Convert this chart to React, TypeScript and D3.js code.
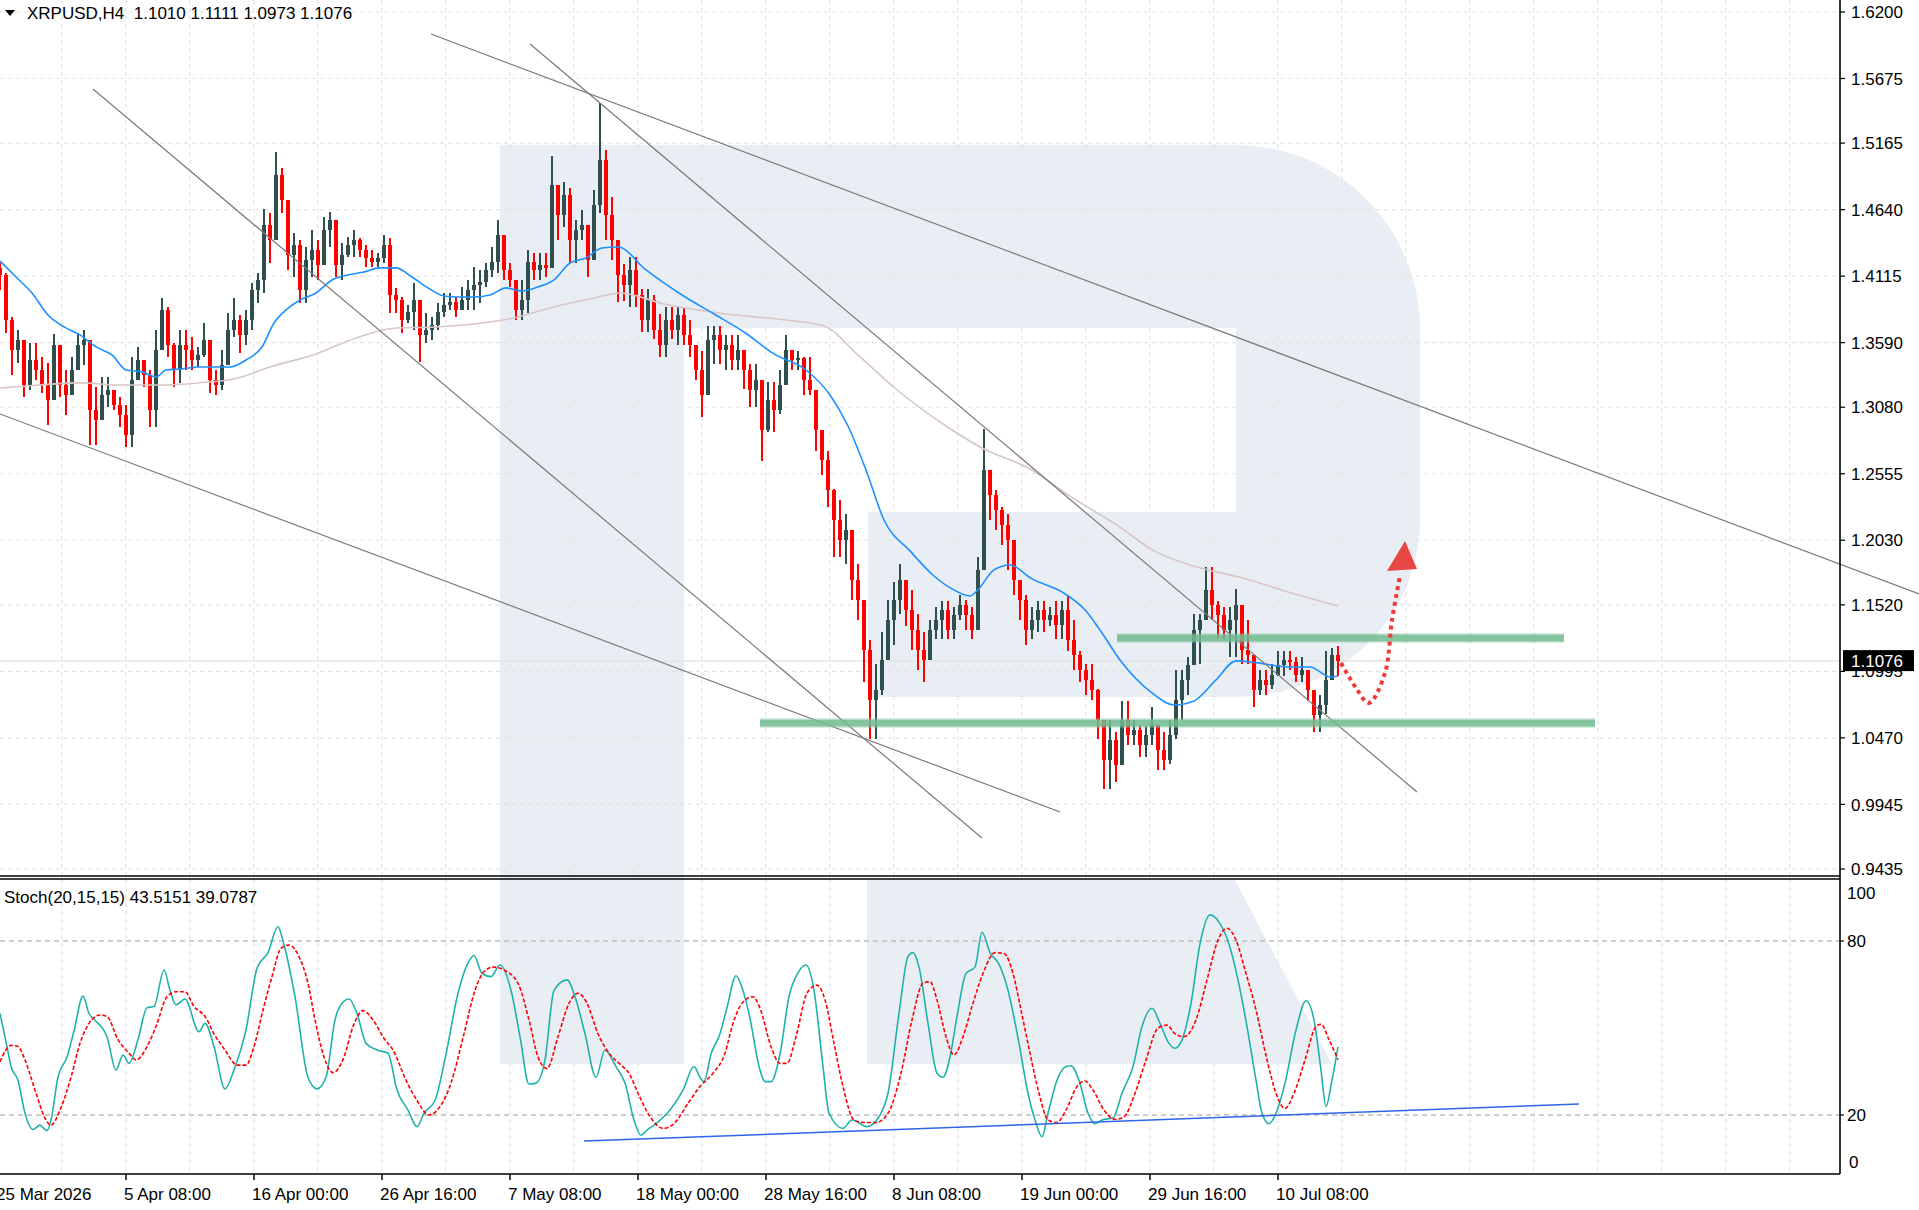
import React from 'react';
import * as d3 from 'd3';

// chart frame (px)
const W = 1919;
const H = 1210;
const AXIS_X = 1840;
const MAIN_BOTTOM = 876;
const SUB_TOP = 879;
const SUB_BOTTOM = 1174;
const FONT = "'Liberation Sans', Arial, sans-serif";

const symbolHeader = 'XRPUSD,H4  1.1010 1.1111 1.0973 1.1076';
const stochHeader = 'Stoch(20,15,15) 43.5151 39.0787';
const lastPrice = 1.1076;

const priceTicks = [1.62, 1.5675, 1.5165, 1.464, 1.4115, 1.359, 1.308, 1.2555, 1.203, 1.152, 1.0995, 1.047, 0.9945, 0.9435];
const stochLevels = [80, 20];
const timeTickBars = [-1, 63, 127, 191, 255, 319, 383, 447, 511, 575, 639];
const timeTickLabels = ['25 Mar 2026', '5 Apr 08:00', '16 Apr 00:00', '26 Apr 16:00', '7 May 08:00', '18 May 00:00',
  '28 May 16:00', '8 Jun 08:00', '19 Jun 00:00', '29 Jun 16:00', '10 Jul 08:00'];

// each candle groups 3 H4 bars
const BARS_PER_CANDLE = 3;
const firstOpen = 1.418;
const closes = [
  1.4124, 1.3769, 1.3532, 1.3611, 1.3256, 1.3453, 1.3374, 1.3256, 1.3137, 1.3572,
  1.3256, 1.3177, 1.3374, 1.3572, 1.3611, 1.3059, 1.2980, 1.3177, 1.3216, 1.3098,
  1.3019, 1.2861, 1.3295, 1.3453, 1.3335, 1.3059, 1.3532, 1.3848, 1.3572, 1.3374,
  1.3572, 1.3532, 1.3453, 1.3493, 1.3611, 1.3295, 1.3256, 1.3414, 1.3690, 1.3769,
  1.3651, 1.3769, 1.4006, 1.4085, 1.4519, 1.4400, 1.4913, 1.4716, 1.4282, 1.4361,
  1.4006, 1.4242, 1.4321, 1.4203, 1.4479, 1.4558, 1.4203, 1.4282, 1.4361, 1.4400,
  1.4321, 1.4258, 1.4227, 1.4258, 1.4361, 1.3966, 1.3927, 1.3769, 1.3832, 1.3927,
  1.3651, 1.3690, 1.3729, 1.3832, 1.3887, 1.3911, 1.3848, 1.3927, 1.4006, 1.4045,
  1.4069, 1.4164, 1.4227, 1.4440, 1.4164, 1.4085, 1.3848, 1.3927, 1.4227, 1.4164,
  1.4203, 1.4180, 1.4834, 1.4598, 1.4755, 1.4400, 1.4479, 1.4519, 1.4242, 1.4677,
  1.5032, 1.4598, 1.4400, 1.4124, 1.4045, 1.4164, 1.3966, 1.3769, 1.3927, 1.3690,
  1.3572, 1.3769, 1.3690, 1.3808, 1.3651, 1.3572, 1.3374, 1.3177, 1.3611, 1.3651,
  1.3532, 1.3572, 1.3453, 1.3532, 1.3374, 1.3216, 1.3295, 1.2901, 1.3137, 1.3059,
  1.3256, 1.3532, 1.3453, 1.3469, 1.3295, 1.3216, 1.2901, 1.2664, 1.2427, 1.2190,
  1.2033, 1.2111, 1.1717, 1.1559, 1.1164, 1.0770, 1.0849, 1.1085, 1.1401, 1.1559,
  1.1717, 1.1480, 1.1322, 1.1164, 1.1085, 1.1322, 1.1401, 1.1480, 1.1322, 1.1441,
  1.1520, 1.1441, 1.1322, 1.1796, 1.2585, 1.2388, 1.2269, 1.2151, 1.2033, 1.1717,
  1.1559, 1.1322, 1.1401, 1.1480, 1.1401, 1.1441, 1.1362, 1.1480, 1.1243, 1.1125,
  1.1007, 1.0928, 1.0849, 1.0612, 1.0296, 1.0454, 1.0257, 1.0612, 1.0493, 1.0533,
  1.0415, 1.0493, 1.0572, 1.0375, 1.0296, 1.0493, 1.0770, 1.0928, 1.1046, 1.1322,
  1.1401, 1.1638, 1.1520, 1.1441, 1.1322, 1.1401, 1.1520, 1.1164, 1.1125, 1.0849,
  1.0928, 1.0888, 1.0967, 1.1046, 1.1085, 1.1070, 1.0967, 1.1007, 1.0849, 1.0651,
  1.0730, 1.0928, 1.1125, 1.1076,
];
const highs = [
  1.4220, 1.4140, 1.3793, 1.3690, 1.3588, 1.3588, 1.3588, 1.3477, 1.3430, 1.3659,
  1.3532, 1.3374, 1.3477, 1.3666, 1.3690, 1.3556, 1.3240, 1.3319, 1.3319, 1.3216,
  1.3161, 1.3098, 1.3477, 1.3556, 1.3453, 1.3374, 1.3690, 1.3942, 1.3871, 1.3588,
  1.3690, 1.3690, 1.3635, 1.3556, 1.3745, 1.3611, 1.3374, 1.3532, 1.3824, 1.3942,
  1.3808, 1.3848, 1.4061, 1.4140, 1.4645, 1.4614, 1.5095, 1.4969, 1.4535, 1.4456,
  1.4400, 1.4345, 1.4479, 1.4400, 1.4582, 1.4622, 1.4479, 1.4377, 1.4424, 1.4479,
  1.4416, 1.4361, 1.4321, 1.4298, 1.4440, 1.4416, 1.4022, 1.3950, 1.3887, 1.4061,
  1.3848, 1.3824, 1.3793, 1.3903, 1.3982, 1.3982, 1.3950, 1.4030, 1.4085, 1.4187,
  1.4164, 1.4219, 1.4345, 1.4558, 1.4298, 1.4219, 1.4006, 1.4085, 1.4321, 1.4298,
  1.4298, 1.4298, 1.5063, 1.4795, 1.4858, 1.4811, 1.4558, 1.4637, 1.4503, 1.4795,
  1.5482, 1.5111, 1.4740, 1.4400, 1.4211, 1.4266, 1.4266, 1.4014, 1.4014, 1.3966,
  1.3816, 1.3871, 1.3871, 1.3871, 1.3871, 1.3769, 1.3525, 1.3525, 1.3721, 1.3721,
  1.3721, 1.3651, 1.3651, 1.3651, 1.3525, 1.3422, 1.3422, 1.3280, 1.3280, 1.3280,
  1.3374, 1.3651, 1.3525, 1.3525, 1.3477, 1.3477, 1.3082, 1.2901, 1.2735, 1.2435,
  1.2348, 1.2238, 1.2033, 1.1843, 1.1559, 1.1243, 1.1054, 1.1306, 1.1559, 1.1701,
  1.1843, 1.1701, 1.1638, 1.1449, 1.1306, 1.1401, 1.1504, 1.1551, 1.1551, 1.1504,
  1.1598, 1.1559, 1.1504, 1.1898, 1.2909, 1.2585, 1.2427, 1.2293, 1.2238, 1.1898,
  1.1717, 1.1598, 1.1504, 1.1551, 1.1551, 1.1504, 1.1551, 1.1551, 1.1598, 1.1401,
  1.1157, 1.1054, 1.1054, 1.0857, 1.0612, 1.0612, 1.0517, 1.0762, 1.0762, 1.0612,
  1.0564, 1.0564, 1.0714, 1.0517, 1.0517, 1.0612, 1.1007, 1.1007, 1.1109, 1.1449,
  1.1449, 1.1820, 1.1820, 1.1551, 1.1504, 1.1504, 1.1646, 1.1401, 1.1401, 1.1109,
  1.1007, 1.1007, 1.1054, 1.1157, 1.1157, 1.1157, 1.1109, 1.1109, 1.1007, 1.0809,
  1.0809, 1.1157, 1.1180, 1.1196,
];
const lows = [
  1.4006, 1.3666, 1.3335, 1.3430, 1.3161, 1.3216, 1.3295, 1.3193, 1.2940, 1.3374,
  1.3161, 1.3019, 1.3216, 1.3430, 1.3414, 1.2782, 1.2782, 1.2980, 1.3082, 1.3059,
  1.2924, 1.2766, 1.2766, 1.3295, 1.3240, 1.2924, 1.2924, 1.3690, 1.3477, 1.3240,
  1.3272, 1.3374, 1.3374, 1.3398, 1.3477, 1.3193, 1.3177, 1.3216, 1.3414, 1.3635,
  1.3509, 1.3572, 1.3690, 1.3903, 1.3982, 1.4219, 1.4400, 1.4614, 1.4164, 1.4109,
  1.3903, 1.3903, 1.4109, 1.4085, 1.4282, 1.4345, 1.4109, 1.4085, 1.4266, 1.4266,
  1.4266, 1.4187, 1.4187, 1.4187, 1.4219, 1.3824, 1.3824, 1.3666, 1.3745, 1.3690,
  1.3438, 1.3588, 1.3611, 1.3690, 1.3793, 1.3848, 1.3793, 1.3848, 1.3848, 1.3848,
  1.3903, 1.4030, 1.4109, 1.4140, 1.4085, 1.4030, 1.3769, 1.3769, 1.3824, 1.4085,
  1.4085, 1.4109, 1.4321, 1.4400, 1.4503, 1.4219, 1.4219, 1.4400, 1.4109, 1.4242,
  1.4614, 1.4400, 1.4242, 1.3911, 1.3919, 1.3871, 1.3871, 1.3674, 1.3674, 1.3619,
  1.3477, 1.3477, 1.3619, 1.3572, 1.3572, 1.3477, 1.3295, 1.3003, 1.3374, 1.3422,
  1.3422, 1.3374, 1.3374, 1.3374, 1.3224, 1.3082, 1.3082, 1.2656, 1.2885, 1.2885,
  1.3027, 1.3280, 1.3374, 1.3374, 1.3177, 1.3177, 1.2735, 1.2546, 1.2293, 1.1898,
  1.1898, 1.1843, 1.1559, 1.1401, 1.0911, 1.0462, 1.0462, 1.0809, 1.1085, 1.1204,
  1.1449, 1.1354, 1.1164, 1.1007, 1.0911, 1.1085, 1.1251, 1.1251, 1.1251, 1.1251,
  1.1401, 1.1322, 1.1251, 1.1449, 1.1898, 1.2190, 1.2111, 1.1993, 1.1796, 1.1598,
  1.1401, 1.1204, 1.1251, 1.1306, 1.1306, 1.1354, 1.1251, 1.1251, 1.1157, 1.1007,
  1.0911, 1.0809, 1.0770, 1.0462, 1.0067, 1.0067, 1.0122, 1.0415, 1.0415, 1.0415,
  1.0320, 1.0320, 1.0415, 1.0217, 1.0217, 1.0264, 1.0462, 1.0612, 1.0809, 1.1054,
  1.1054, 1.1401, 1.1401, 1.1251, 1.1251, 1.1109, 1.1109, 1.1054, 1.1054, 1.0715,
  1.0809, 1.0809, 1.0857, 1.0959, 1.0959, 1.1007, 1.0911, 1.0911, 1.0762, 1.0517,
  1.0517, 1.0659, 1.0959, 1.0959,
];

// moving averages: [bar, price]
const maFast: [number, number][] = [
  [0, 1.4235], [8, 1.4108], [16, 1.3982], [24, 1.3808], [32, 1.3714], [40, 1.3651], [48, 1.3556], [56, 1.3493],
  [63, 1.3374], [71, 1.3359], [78, 1.3319], [83, 1.3374], [91, 1.3382], [99, 1.3398], [107, 1.3398], [115, 1.3398],
  [123, 1.3453], [131, 1.3556], [137, 1.3745], [143, 1.3848], [150, 1.3927], [158, 1.3982], [166, 1.4085],
  [174, 1.4124], [182, 1.4148], [190, 1.4180], [198, 1.4180], [206, 1.4108], [214, 1.4022], [222, 1.3958],
  [229, 1.3950], [237, 1.3950], [245, 1.3966], [253, 1.4022], [261, 1.3998], [269, 1.4030], [277, 1.4085],
  [285, 1.4219], [293, 1.4258], [301, 1.4337], [309, 1.4345], [323, 1.4164], [341, 1.3966], [357, 1.3816],
  [372, 1.3674], [387, 1.3501], [403, 1.3374], [415, 1.3177], [424, 1.2932], [433, 1.2585], [442, 1.2190],
  [455, 1.1946], [467, 1.1748], [476, 1.1646], [485, 1.1590], [488, 1.1622], [497, 1.1796], [505, 1.1835],
  [516, 1.1725], [531, 1.1622], [543, 1.1472], [550, 1.1322], [560, 1.1085], [576, 1.0825], [587, 1.0730],
  [597, 1.0762], [608, 1.0928], [618, 1.1078], [629, 1.1062], [644, 1.1030], [655, 1.1030], [665, 1.0951],
  [669, 1.0959],
];
const maSlow: [number, number][] = [
  [0, 1.3232], [20, 1.3256], [40, 1.3272], [60, 1.3256], [79, 1.3256], [99, 1.3272], [119, 1.3311],
  [135, 1.3398], [158, 1.3501], [178, 1.3627], [198, 1.3706], [218, 1.3714], [237, 1.3737], [257, 1.3785],
  [277, 1.3872], [297, 1.3942], [310, 1.3982], [332, 1.3895], [363, 1.3816], [393, 1.3769], [412, 1.3721],
  [430, 1.3477], [448, 1.3224], [473, 1.2932], [491, 1.2758], [516, 1.2585], [534, 1.2388], [559, 1.2144],
  [577, 1.1946], [595, 1.1835], [623, 1.1725], [644, 1.1622], [669, 1.1512],
];

// stochastic %K and %D: [bar, value]
const stochK: [number, number][] = [
  [0, 55], [3.5, 43.6], [5.5, 36.7], [9, 32], [12.5, 20.6], [16.5, 15], [20, 16.5], [23.5, 14.6], [25.5, 18.3],
  [29, 33], [33.5, 40], [37, 49], [41.5, 61], [44.5, 55], [47, 53], [53.5, 47], [58, 35.5], [61.5, 40.7],
  [64.5, 37.8], [69, 46], [73.5, 57], [77, 57.4], [82, 70], [85, 63], [88, 58], [92.5, 60], [99.5, 48.7],
  [102.5, 51.6], [107, 43.6], [112.5, 29], [117, 35.5], [123, 49.3], [128.5, 70.6], [134, 76], [139, 85],
  [141.5, 80], [147.5, 60.8], [154, 33], [158.5, 29], [163, 33], [167.5, 52.8], [171, 58.5], [174.5, 60],
  [178.5, 55], [183, 44.7], [188.5, 42.4], [194, 41.3], [198.5, 28.6], [204, 21.7], [208.5, 16], [212, 20.6],
  [217.5, 25], [223, 41], [229, 62], [233.5, 71.7], [237, 75], [241, 68.8], [245.5, 67.7], [250, 71.7],
  [255.5, 63], [260, 47], [264.5, 30.7], [268, 31], [272.5, 39], [277, 63], [283.5, 66.6], [288, 59.7],
  [292.5, 48], [298, 33], [302.5, 42.4], [308, 36.7], [312.5, 31], [317, 18.3], [320.5, 13], [323.5, 14.8],
  [328, 17], [335, 21.7], [341.5, 28.6], [347, 36.7], [350, 33], [352, 31.5], [355.5, 41], [360, 48],
  [363.5, 57], [368, 68], [371, 64], [374.5, 55], [380, 35.5], [382.5, 31.5], [385.5, 31.5], [390, 41],
  [394.5, 60.8], [399, 69], [403, 71.7], [407, 63], [411.5, 36.7], [414.5, 20.6], [421.5, 15.4], [426, 18.3],
  [433.5, 16], [439.5, 19.4], [444, 27.5], [449.5, 55], [454, 74.6], [456.5, 76], [459.5, 71], [464, 51.6],
  [468.5, 34.4], [471.5, 33], [475, 40], [478.5, 54], [483, 68.8], [487.5, 71], [491, 83], [495, 76],
  [499.5, 72], [504, 63], [509.5, 44.7], [514, 27.5], [517.5, 18.3], [521, 12.5], [524, 20.6], [528.5, 32],
  [533, 36.7], [535.5, 37], [539.5, 32], [544, 20.6], [547.5, 17], [551, 18.3], [556.5, 19], [561, 27.5],
  [566.5, 36.7], [571, 50.5], [576, 56.8], [580, 51.6], [584.5, 44.7], [587.5, 43], [591, 45.9], [595.5, 58.5],
  [600, 79], [605, 89], [610, 86], [614.5, 79], [619, 66.6], [623.5, 50.5], [628, 32], [631, 20.6], [634.5, 17],
  [638, 20.6], [642.5, 31], [648, 49.3], [653, 59.4], [657, 52.8], [660.5, 35.5], [663, 23], [666, 32],
  [669, 43.5],
];
const stochD: [number, number][] = [
  [0, 38.4], [5.5, 44], [9, 43.6], [12.5, 39], [18, 27.5], [22.5, 18.9], [25.5, 16.5], [30, 21.7], [35.5, 33],
  [40, 44.7], [44.5, 51.6], [50, 54.5], [53.5, 54], [59, 46], [64.5, 41.3], [68, 39], [73.5, 43.6], [78, 50.5],
  [83.5, 60.8], [88, 62.5], [92.5, 62.5], [97, 57.4], [102.5, 54], [107, 48], [112.5, 42.4], [118.5, 37.2],
  [123, 37.2], [127, 43.6], [131.5, 56.2], [136, 67.7], [140.5, 77.5], [144.5, 78.6], [149.5, 74.6],
  [154, 65.4], [157.5, 52.8], [162, 40], [166.5, 34.6], [172, 40], [176.5, 50.5], [181.5, 56], [186.5, 52.8],
  [192, 46.4], [196.5, 42.4], [203, 32], [208.5, 25], [214.5, 20], [220, 22.9], [225.5, 31], [232, 48],
  [237.5, 63], [242, 69.4], [246.5, 71], [252, 70], [259, 65.4], [264.5, 52.8], [269, 40], [273.5, 36],
  [279, 47], [284.5, 58.5], [289, 62], [293.5, 58.5], [299, 48], [304.5, 41.3], [310.5, 37.2], [314.5, 34.4],
  [319, 27.5], [325, 19.4], [331.5, 15.4], [337, 17], [344, 24], [350, 29.8], [356.5, 34.4], [362.5, 41.3],
  [366.5, 51.6], [371, 58.5], [376.5, 60.8], [380, 56.8], [385.5, 43.6], [390, 37.8], [393.5, 37.8], [398, 47],
  [403.5, 62], [408.5, 64.8], [412.5, 59.7], [417, 44.7], [421.5, 29.8], [427, 18.3], [431.5, 17.4],
  [438, 17.4], [444, 20.6], [450.5, 34.4], [456, 52.8], [461.5, 65.4], [465, 66], [468.5, 59.7], [473, 47],
  [477, 40.7], [481.5, 47], [486, 57.4], [491.5, 68.8], [497.5, 76], [502, 75.7], [506.5, 68.8], [510.5, 56.2],
  [515, 41.3], [519.5, 27.5], [524, 18.3], [528.5, 17.4], [533, 21.7], [538.5, 29.8], [542.5, 31.7],
  [546.5, 28.6], [552, 21.7], [557.5, 18.5], [562, 19.4], [567.5, 27.5], [573, 39], [579, 50], [583.5, 51],
  [587.5, 48], [592, 47], [598, 52.8], [603.5, 66.6], [609, 80.3], [613.5, 84.4], [618, 80.3], [622.5, 70],
  [628, 56.2], [633.5, 39], [638, 27.5], [642.5, 22.3], [647, 27.5], [652.5, 39], [658, 50.5], [660.5, 51.3],
  [664.5, 46], [669, 39.1],
];

// drawn objects: [bar, price]
const trendLines: [number, number][][] = [
  [[215.5, 1.6026], [959.5, 1.1606]],
  [[265, 1.5947], [708.5, 1.0043]],
  [[46.5, 1.5592], [491, 0.968]],
  [[0, 1.3027], [530, 0.9885]],
];
const levelBands = [
  { price: 1.1258, from: 558.5, to: 782 },
  { price: 1.0587, from: 380, to: 797.5 },
];
const stochSupport: [number, number][] = [[292, 11.0], [789.5, 23.8]];
const forecastPath: [number, number][] = [
  [670.5, 1.1061], [678, 1.0864], [684.5, 1.0746], [692.5, 1.0983], [696, 1.1401], [700, 1.1748],
];
const forecastHead: [number, number][] = [[693.5, 1.1788], [702.5, 1.2024], [708.5, 1.1804]];

export default function App() {
  const x = d3.scaleLinear().domain([0, 960]).range([0, 1920]);
  const yP = d3.scaleLinear().domain([0.9435, 1.62]).range([869, 12]);
  const yS = d3.scaleLinear().domain([0, 100]).range([1173, 883]);

  const candles = closes.map((c, i) => {
    const o = i === 0 ? firstOpen : closes[i - 1];
    return { bar: i * BARS_PER_CANDLE, o, c, h: Math.max(highs[i], o, c), l: Math.min(lows[i], o, c) };
  });

  const priceLine = d3.line<[number, number]>().x(d => x(d[0])).y(d => yP(d[1])).curve(d3.curveMonotoneX);
  const stochLine = d3.line<[number, number]>().x(d => x(d[0])).y(d => yS(d[1])).curve(d3.curveMonotoneX);
  const straight = d3.line<[number, number]>().x(d => x(d[0])).y(d => yP(d[1]));
  const forecast = d3.line<[number, number]>().x(d => x(d[0])).y(d => yP(d[1])).curve(d3.curveCatmullRom);

  const gridBars = d3.range(-1, 900, 32);

  return (
    <svg width={W} height={H} style={{ position: 'absolute', left: 0, top: 0, background: '#fff' }} fontFamily={FONT}>
      <defs>
        <clipPath id="mainClip"><rect x={0} y={0} width={AXIS_X} height={MAIN_BOTTOM} /></clipPath>
        <clipPath id="subClip"><rect x={0} y={SUB_TOP} width={AXIS_X} height={SUB_BOTTOM - SUB_TOP} /></clipPath>
      </defs>
      <rect width={W} height={H} fill="#fff" />

      {/* watermark logo */}
      <g fill="#e9eef5">
        <rect x={500} y={145} width={184} height={919} />
        <path d="M684,145 H1236 A184,184 0 0 1 1420,329 V520 A184,177 0 0 1 1236,697 H868 V512 H1236 V328 H684 Z" />
        <path d={`M867,${SUB_TOP + 1} H1235 L1332,1064 H867 Z`} />
      </g>

      {/* grid */}
      <g stroke="#e3e3e3" strokeWidth={1.2} strokeDasharray="4,4">
        {priceTicks.map(p => <line key={p} x1={0} x2={AXIS_X} y1={yP(p)} y2={yP(p)} />)}
        {gridBars.map(b => <line key={'m' + b} x1={x(b)} x2={x(b)} y1={0} y2={MAIN_BOTTOM} />)}
        {gridBars.map(b => <line key={'s' + b} x1={x(b)} x2={x(b)} y1={SUB_TOP} y2={SUB_BOTTOM} />)}
      </g>

      <g clipPath="url(#mainClip)">
        <line x1={0} x2={AXIS_X} y1={yP(lastPrice)} y2={yP(lastPrice)} stroke="#e4e4e4" strokeWidth={1.5} />
        {/* candles */}
        <g shapeRendering="crispEdges">
          {candles.map(d => {
            const up = d.c >= d.o;
            const col = up ? '#2f4f4f' : '#ff0000';
            const top = yP(Math.max(d.o, d.c));
            const bot = yP(Math.min(d.o, d.c));
            const cx = x(d.bar);
            return (
              <g key={d.bar}>
                <line x1={cx} x2={cx} y1={yP(d.h)} y2={yP(d.l)} stroke={col} strokeWidth={1.5} />
                <rect x={cx - 2} y={top} width={4} height={Math.max(1.5, bot - top)} fill={col} />
              </g>
            );
          })}
        </g>
        <path d={priceLine(maSlow) || ''} fill="none" stroke="#d8c6c6" strokeWidth={1.6} />
        <path d={priceLine(maFast) || ''} fill="none" stroke="#1e90ff" strokeWidth={1.6} />
      </g>

      {/* trend lines */}
      <g stroke="#7a7a7a" strokeWidth={1.2} fill="none">
        {trendLines.map((l, i) => <path key={i} d={straight(l) || ''} />)}
      </g>

      {/* support / resistance bands */}
      {levelBands.map(b => (
        <g key={b.price}>
          <rect x={x(b.from)} width={x(b.to) - x(b.from)} y={yP(b.price) - 5} height={10} fill="#8fcaa8" opacity={0.35} />
          <rect x={x(b.from)} width={x(b.to) - x(b.from)} y={yP(b.price) - 3.5} height={7} fill="#6fb98f" opacity={0.8} />
        </g>
      ))}

      {/* forecast arrow */}
      <path d={forecast(forecastPath) || ''} fill="none" stroke="#ee3b3b" strokeWidth={4} strokeDasharray="4,4" />
      <polygon points={forecastHead.map(d => `${x(d[0])},${yP(d[1])}`).join(' ')} fill="#e94646" />

      {/* stochastic */}
      <g clipPath="url(#subClip)">
        <g stroke="#bdbdbd" strokeWidth={1.5} strokeDasharray="5,4">
          {stochLevels.map(v => <line key={v} x1={0} x2={AXIS_X} y1={yS(v)} y2={yS(v)} />)}
        </g>
        <path d={stochLine(stochK) || ''} fill="none" stroke="#20b2aa" strokeWidth={1.6} />
        <path d={stochLine(stochD) || ''} fill="none" stroke="#ff0000" strokeWidth={1.6} strokeDasharray="4,2" />
        <line x1={x(stochSupport[0][0])} x2={x(stochSupport[1][0])} y1={yS(stochSupport[0][1])} y2={yS(stochSupport[1][1])}
          stroke="#2f66e8" strokeWidth={1.5} />
      </g>

      {/* frame */}
      <g stroke="#000" strokeWidth={1.6}>
        <line x1={0} x2={AXIS_X} y1={MAIN_BOTTOM} y2={MAIN_BOTTOM} />
        <line x1={0} x2={AXIS_X} y1={SUB_TOP} y2={SUB_TOP} />
        <line x1={0} x2={AXIS_X} y1={SUB_BOTTOM} y2={SUB_BOTTOM} />
        <line x1={AXIS_X} x2={AXIS_X} y1={0} y2={SUB_BOTTOM} />
      </g>

      {/* price axis */}
      <g fontSize={17} fill="#000">
        {priceTicks.map(p => (
          <g key={p}>
            <line x1={AXIS_X} x2={AXIS_X + 5} y1={yP(p)} y2={yP(p)} stroke="#000" strokeWidth={1.2} />
            <text x={AXIS_X + 11} y={yP(p)} dy="0.36em">{p.toFixed(4)}</text>
          </g>
        ))}
        <rect x={AXIS_X + 3} y={yP(lastPrice) - 11} width={71} height={21} fill="#000" />
        <text x={AXIS_X + 11} y={yP(lastPrice)} dy="0.36em" fill="#fff">{lastPrice.toFixed(4)}</text>
      </g>

      {/* stochastic axis */}
      <g fontSize={17} fill="#000">
        <text x={AXIS_X + 7} y={yS(100) + 10} dy="0.36em">100</text>
        {stochLevels.map(v => (
          <g key={v}>
            <line x1={AXIS_X} x2={AXIS_X + 4} y1={yS(v)} y2={yS(v)} stroke="#000" strokeWidth={1.2} />
            <text x={AXIS_X + 7} y={yS(v)} dy="0.36em">{v}</text>
          </g>
        ))}
        <text x={AXIS_X + 9} y={yS(0) - 11} dy="0.36em">0</text>
      </g>

      {/* time axis */}
      <g fontSize={17} fill="#000">
        {timeTickBars.map((b, i) => (
          <g key={b}>
            <line x1={x(b)} x2={x(b)} y1={SUB_BOTTOM} y2={SUB_BOTTOM + 6} stroke="#000" strokeWidth={1.5} />
            <text x={x(b) - 2} y={1200}>{timeTickLabels[i]}</text>
          </g>
        ))}
      </g>

      {/* headers */}
      <polygon points="5,10 15,10 10,16" fill="#000" />
      <text x={27} y={19} fontSize={17} fill="#000" style={{ whiteSpace: 'pre' }}>{symbolHeader}</text>
      <text x={4} y={903} fontSize={17} fill="#000">{stochHeader}</text>
    </svg>
  );
}
